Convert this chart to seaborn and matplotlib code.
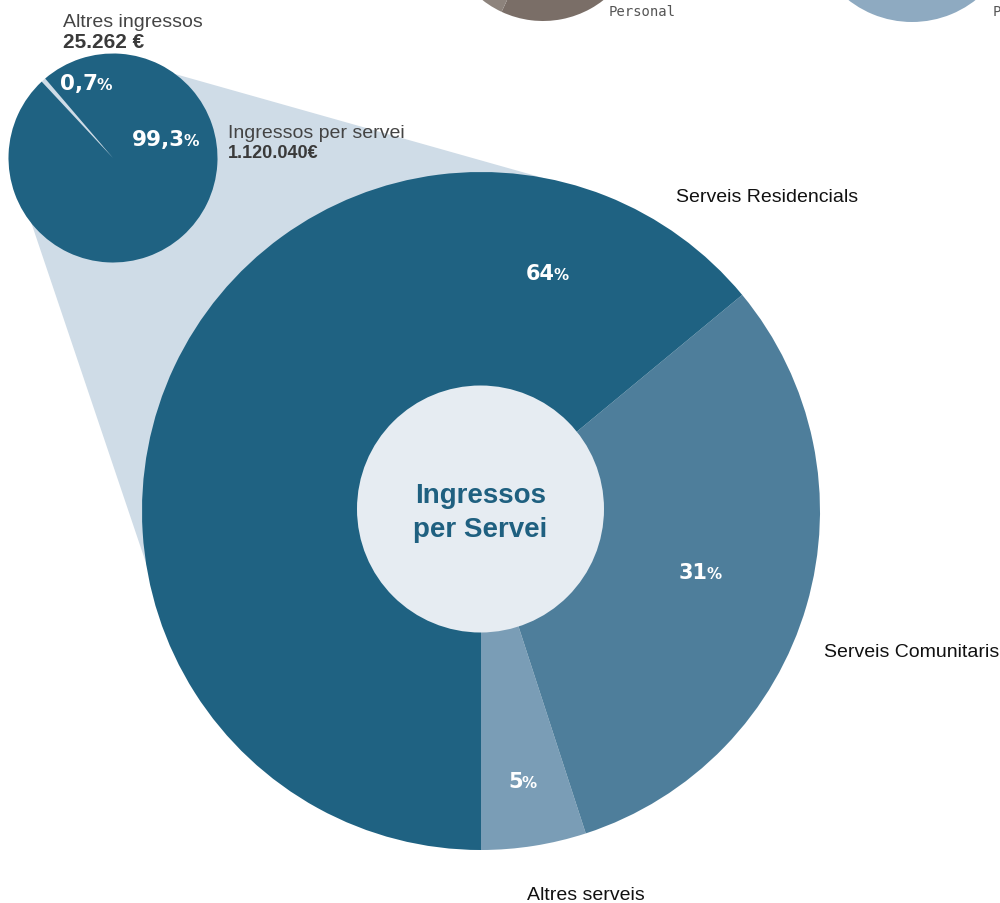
import matplotlib
matplotlib.use("Agg")
import matplotlib.pyplot as plt
import seaborn as sns
from matplotlib.patches import Circle, Polygon

# dades
serveis = ["Altres serveis", "Serveis Comunitaris", "Serveis Residencials"]
serveis_pct = [5, 31, 64]
serveis_pct_txt = ["5", "31", "64"]

ingressos = ["Altres ingressos", "Ingressos per servei"]
ingressos_pct = [0.7, 99.3]
ingressos_pct_txt = ["0,7", "99,3"]
ingressos_eur = ["25.262 €", "1.120.040€"]

# gràfics veïns (només es veu la part de baix)
personal_split = [80, 20]
altre_split = [100]

sns.set_theme(style="white")
plt.rcParams['font.family'] = ['Liberation Sans', 'DejaVu Sans']

H = 904
def Y(y):
    # coordenades de pantalla -> dades
    return H - y

DARK = "#1f6282"
MID = "#4e7e9b"
LIGHT = "#7a9db6"
PALE = "#cfdce7"
INNER = "#e6ecf2"

fig = plt.figure(figsize=(10, 9.04), dpi=100)
ax = fig.add_axes([0, 0, 1, 1])

# con que uneix els dos pastissos
ax.add_patch(Polygon([(30, Y(220)), (175, Y(75)), (600, Y(195)), (147, Y(567))],
                     closed=True, facecolor=PALE, edgecolor="none", zorder=1))

# pastís petit
ax.pie(ingressos_pct, colors=[PALE, DARK], startangle=130.5, counterclock=True,
       radius=104.5, center=(113, Y(159)), wedgeprops=dict(linewidth=0, zorder=2))

# pastís gran
ax.pie(serveis_pct, colors=[LIGHT, MID, DARK], startangle=270, counterclock=True,
       radius=339, center=(481, Y(512)), wedgeprops=dict(linewidth=0, zorder=2))
ax.add_patch(Circle((480.5, Y(510)), 123.5, facecolor=INNER, edgecolor="none", zorder=3))

# gràfics de dalt
ax.pie(personal_split, colors=["#7a6e67", "#8d837c"], startangle=245, counterclock=True,
       radius=98, center=(543, Y(-76)), wedgeprops=dict(linewidth=0))
ax.pie(altre_split, colors=["#8eaac1"], radius=103, center=(912, Y(-80)),
       wedgeprops=dict(linewidth=0))
ax.text(609, Y(16), "Personal", family="DejaVu Sans Mono", fontsize=10,
        color="#555555", va="baseline")
ax.text(993, Y(16), "P", family="DejaVu Sans Mono", fontsize=10,
        color="#555555", va="baseline")

# text central
ax.text(480.5, Y(503), "Ingressos", ha="center", va="baseline", fontsize=20,
        fontweight="bold", color="#1f6080", zorder=4)
ax.text(480.5, Y(537), "per Servei", ha="center", va="baseline", fontsize=20,
        fontweight="bold", color="#1f6080", zorder=4)

# percentatges
def pct(x, y, num, size):
    ax.text(x, Y(y), num, ha="right", va="baseline", fontsize=size,
            fontweight="bold", color="white", family="DejaVu Sans", zorder=4)
    ax.text(x - 1.5, Y(y), "%", ha="left", va="baseline", fontsize=size * 0.72,
            fontweight="semibold", color="white", family="DejaVu Sans", zorder=4)

pct(523, 788, serveis_pct_txt[0], 15)
pct(708, 579, serveis_pct_txt[1], 15)
pct(555, 280, serveis_pct_txt[2], 15)
pct(98, 90, ingressos_pct_txt[0], 15.5)
pct(185, 146, ingressos_pct_txt[1], 15.5)

# etiquetes del pastís gran
ax.text(585.5, Y(900), serveis[0], ha="center", va="baseline", fontsize=14, color="#111111")
ax.text(824, Y(657), serveis[1], ha="left", va="baseline", fontsize=14, color="#111111")
ax.text(676, Y(202), serveis[2], ha="left", va="baseline", fontsize=14, color="#111111")

# etiquetes del pastís petit
ax.text(63, Y(27), ingressos[0], ha="left", va="baseline", fontsize=14, color="#444444")
ax.text(63, Y(48), ingressos_eur[0], ha="left", va="baseline", fontsize=15,
        fontweight="bold", color="#3a3a3a")
ax.text(228, Y(138), ingressos[1], ha="left", va="baseline", fontsize=14, color="#444444", zorder=4)
ax.text(228, Y(158), ingressos_eur[1], ha="left", va="baseline", fontsize=13,
        fontweight="bold", color="#3a3a3a", zorder=4)

ax.set_xlim(0, 1000)
ax.set_ylim(0, H)
ax.set_aspect("equal")
ax.axis("off")

fig.savefig("out.png", dpi=100)
